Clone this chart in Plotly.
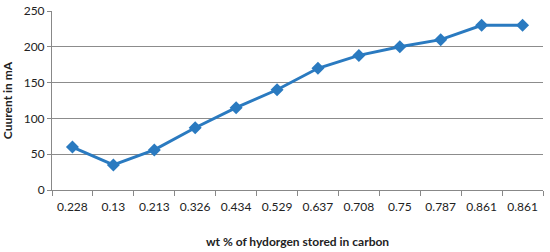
import plotly.graph_objects as go

categories = ["0.228", "0.13", "0.213", "0.326", "0.434", "0.529", "0.637", "0.708", "0.75", "0.787", "0.861", "0.861"]
current = [60, 35, 56, 87, 115, 140, 170, 188, 200, 210, 230, 230]
y_ticks = [0, 50, 100, 150, 200, 250]

xpos = list(range(len(categories)))

fig = go.Figure()
fig.add_trace(go.Scatter(
    x=xpos, y=current, mode="lines+markers",
    line=dict(color="#2A7AC0", width=3),
    marker=dict(symbol="diamond", size=10, color="#2A7AC0"),
    showlegend=False,
))

font = "Lato, Open Sans, sans-serif"
fig.update_layout(
    width=550, height=252,
    margin=dict(l=52, r=7, t=11, b=62),
    paper_bgcolor="white", plot_bgcolor="white",
    font=dict(family=font, size=12, color="#222"),
    xaxis=dict(
        range=[-0.5, len(categories) - 0.5], automargin=False,
        tickmode="array", tickvals=xpos, ticktext=categories,
        ticks="", showgrid=False, zeroline=False,
        showline=True, linecolor="#888", linewidth=1,
        minor=dict(tickmode="array", tickvals=[i - 0.5 for i in range(len(categories) + 1)],
                   ticks="outside", ticklen=5, tickcolor="#888", showgrid=False),
        ticklabelstandoff=6,
        title=dict(text="<b>wt % of hydorgen stored in carbon</b>", font=dict(size=12), standoff=24),
    ),
    yaxis=dict(
        range=[0, 250], tickvals=y_ticks, automargin=False,
        ticks="outside", ticklen=4, tickcolor="#888",
        showgrid=True, gridcolor="#8c8c8c", gridwidth=1,
        zeroline=False, showline=True, linecolor="#888", linewidth=1,
        title=dict(text="<b>Cuurent in mA</b>", font=dict(size=12), standoff=10),
    ),
)

fig.write_html("out.html", config={"displayModeBar": False},
               post_script="document.body.style.margin='0';")
